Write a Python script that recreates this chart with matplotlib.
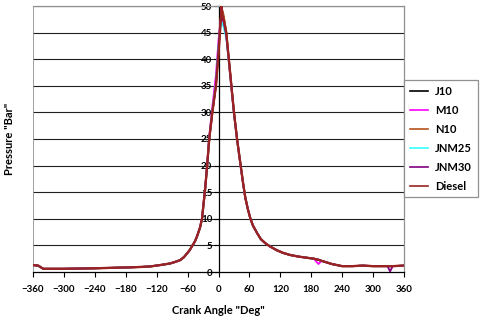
"""Cylinder pressure vs crank angle for the tested fuels"""
import matplotlib
matplotlib.use('Agg')
import matplotlib.pyplot as plt

# crank angle (deg) shared by all the fuels
angle = [-360, -350, -340, -300, -240, -180, -150, -132, -110, -94,
         -84, -74, -67, -61, -56, -52, -46, -42, -36, -32,
         -29, -26, -22, -18, -12, -5, 0, 3, 6, 8,
         10, 15, 20, 25, 30, 36, 43, 48, 52, 57,
         62, 67, 75, 82, 91, 100, 113, 125, 139, 155,
         170, 185, 194, 200, 220, 240, 260, 280, 300, 328,
         333, 338, 360]

# pressure (bar), one list per fuel
j10 = [1.3, 1.2, 0.6, 0.6, 0.7, 0.85, 0.95, 1.05, 1.35, 1.6,
       1.9, 2.25, 2.8, 3.5, 4.1, 4.75, 5.7, 6.6, 8.3, 10.0,
       12.8, 15.5, 20.0, 25.0, 30.0, 35.5, 42.0, 46.0, 49.5, 48.5,
       48.0, 45.0, 40.0, 35.0, 30.0, 25.0, 20.0, 16.5, 14.0, 11.8,
       10.0, 8.7, 7.3, 6.2, 5.4, 4.8, 4.1, 3.6, 3.2, 2.9,
       2.7, 2.5, 2.3, 2.1, 1.5, 1.1, 1.1, 1.2, 1.1, 1.1,
       1.1, 1.1, 1.2]
m10 = [1.3, 1.2, 0.6, 0.6, 0.7, 0.85, 0.95, 1.05, 1.35, 1.6,
       1.9, 2.25, 2.8, 3.5, 4.1, 4.75, 5.7, 6.6, 8.4, 10.2,
       13.0, 15.8, 20.5, 25.5, 31.0, 37.0, 43.5, 46.5, 48.5, 47.5,
       47.0, 44.5, 39.5, 34.5, 29.8, 24.8, 19.8, 16.4, 13.9, 11.8,
       10.0, 8.7, 7.3, 6.2, 5.4, 4.8, 4.1, 3.6, 3.2, 2.9,
       2.7, 2.5, 1.5, 2.1, 1.5, 1.1, 1.1, 1.2, 1.1, 1.1,
       1.1, 1.1, 1.2]
n10 = [1.3, 1.2, 0.6, 0.6, 0.7, 0.85, 0.95, 1.05, 1.35, 1.6,
       1.9, 2.25, 2.8, 3.5, 4.1, 4.75, 5.7, 6.6, 8.3, 10.0,
       12.8, 15.5, 20.0, 25.0, 30.0, 35.0, 41.5, 46.0, 49.0, 49.0,
       48.0, 45.0, 40.0, 35.0, 30.0, 25.0, 20.0, 16.5, 14.0, 11.8,
       10.0, 8.7, 7.3, 6.2, 5.4, 4.8, 4.1, 3.6, 3.2, 2.9,
       2.7, 2.5, 2.3, 2.1, 1.5, 1.1, 1.1, 1.2, 1.1, 1.1,
       1.1, 1.1, 1.2]
jnm25 = [1.3, 1.2, 0.6, 0.6, 0.7, 0.85, 0.95, 1.05, 1.35, 1.6,
         1.9, 2.25, 2.8, 3.5, 4.1, 4.75, 5.7, 6.6, 8.3, 10.0,
         12.8, 15.5, 20.0, 25.0, 30.2, 35.5, 42.5, 45.5, 47.0, 46.5,
         46.0, 44.0, 39.5, 34.8, 29.8, 24.8, 19.9, 16.5, 14.0, 11.8,
         10.0, 8.7, 7.3, 6.2, 5.4, 4.8, 4.1, 3.6, 3.2, 2.9,
         2.7, 2.5, 2.3, 2.1, 1.5, 1.1, 1.1, 1.2, 1.1, 1.1,
         1.1, 1.1, 1.2]
jnm30 = [1.3, 1.2, 0.6, 0.6, 0.7, 0.85, 0.95, 1.05, 1.35, 1.6,
         1.9, 2.25, 2.8, 3.5, 4.1, 4.75, 5.7, 6.6, 8.3, 10.0,
         12.8, 15.5, 20.0, 25.0, 30.0, 35.0, 42.0, 46.0, 48.0, 47.5,
         47.0, 44.5, 40.0, 35.0, 30.0, 25.0, 20.0, 16.5, 14.0, 11.8,
         10.0, 8.7, 7.3, 6.2, 5.4, 4.8, 4.1, 3.6, 3.2, 2.9,
         2.7, 2.5, 2.3, 2.1, 1.5, 1.1, 1.1, 1.2, 1.1, 1.1,
         0.1, 1.1, 1.2]
diesel = [1.3, 1.2, 0.6, 0.6, 0.7, 0.85, 0.95, 1.05, 1.35, 1.6,
          1.9, 2.25, 2.8, 3.5, 4.1, 4.75, 5.7, 6.6, 8.3, 10.0,
          12.8, 15.5, 20.0, 25.0, 30.0, 35.0, 41.0, 45.0, 50.0, 48.0,
          47.5, 45.0, 40.0, 35.0, 30.0, 25.0, 20.0, 16.5, 14.0, 11.8,
          10.0, 8.7, 7.3, 6.2, 5.4, 4.8, 4.1, 3.6, 3.2, 2.9,
          2.7, 2.5, 2.3, 2.1, 1.5, 1.1, 1.1, 1.2, 1.1, 1.1,
          1.1, 1.1, 1.2]

labels = ['J10', 'M10', 'N10', 'JNM25', 'JNM30', 'Diesel']
series = [j10, m10, n10, jnm25, jnm30, diesel]
colors = ['#000000', '#FF00FF', '#B5531A', '#33FFFF', '#800080', '#9A2222']
widths = [1.3, 1.3, 1.6, 1.3, 1.3, 1.6]

x_ticks = list(range(-360, 361, 60))
y_ticks = list(range(0, 51, 5))

fig = plt.figure(figsize=(4.8, 3.23), dpi=100, facecolor='w')
ax = fig.add_axes([33/480, 51/323, 371/480, 266/323])

# horizontal gridlines
for y in y_ticks[1:]:
    ax.axhline(y, color='#202020', lw=0.8, zorder=1)

for vals, lab, c, w in zip(series, labels, colors, widths):
    ax.plot(angle, vals, '-', color=c, lw=w, label=lab, zorder=3)

ax.set_xlim(-360, 360)
ax.set_ylim(0, 50)
ax.set_xticks(x_ticks)
ax.set_yticks(y_ticks)

# y axis sits at zero crank angle, Excel style
ax.spines['left'].set_position(('data', 0))
ax.spines['left'].set_color('black')
ax.spines['left'].set_linewidth(0.9)
ax.spines['bottom'].set_color('black')
ax.spines['bottom'].set_linewidth(0.9)
for s in ['top', 'right']:
    ax.spines[s].set_color('#909090')
    ax.spines[s].set_linewidth(0.9)
ax.axvline(-360, color='#909090', lw=1.2, zorder=2)

ax.tick_params(axis='both', direction='out', length=3.5, width=0.8, color='black')
for lab in ax.get_xticklabels() + ax.get_yticklabels():
    lab.set_fontfamily('Lato')
    lab.set_fontweight('bold')
    lab.set_fontsize(7)
ax.tick_params(axis='y', pad=1)
ax.tick_params(axis='x', pad=6)

fig.text(218/480, 1 - 311/323, 'Crank Angle "Deg"', ha='center', va='center',
         fontfamily='Lato', fontweight='bold', fontsize=8)
fig.text(10/480, 1 - 139/323, 'Pressure "Bar"', ha='center', va='center', rotation=90,
         fontfamily='Lato', fontweight='bold', fontsize=8)

leg = fig.legend(loc='upper left', bbox_to_anchor=(404/480, 1 - 80/323),
                 prop=dict(family='Lato', weight='bold', size=8),
                 frameon=True, fancybox=False, edgecolor='#909090', framealpha=1,
                 handlelength=1.7, handletextpad=0.6, labelspacing=0.72,
                 borderpad=0.5, borderaxespad=0)
leg.get_frame().set_linewidth(0.9)
for line in leg.get_lines():
    line.set_linewidth(1.2)

fig.savefig('out.png', dpi=100, facecolor=fig.get_facecolor())
